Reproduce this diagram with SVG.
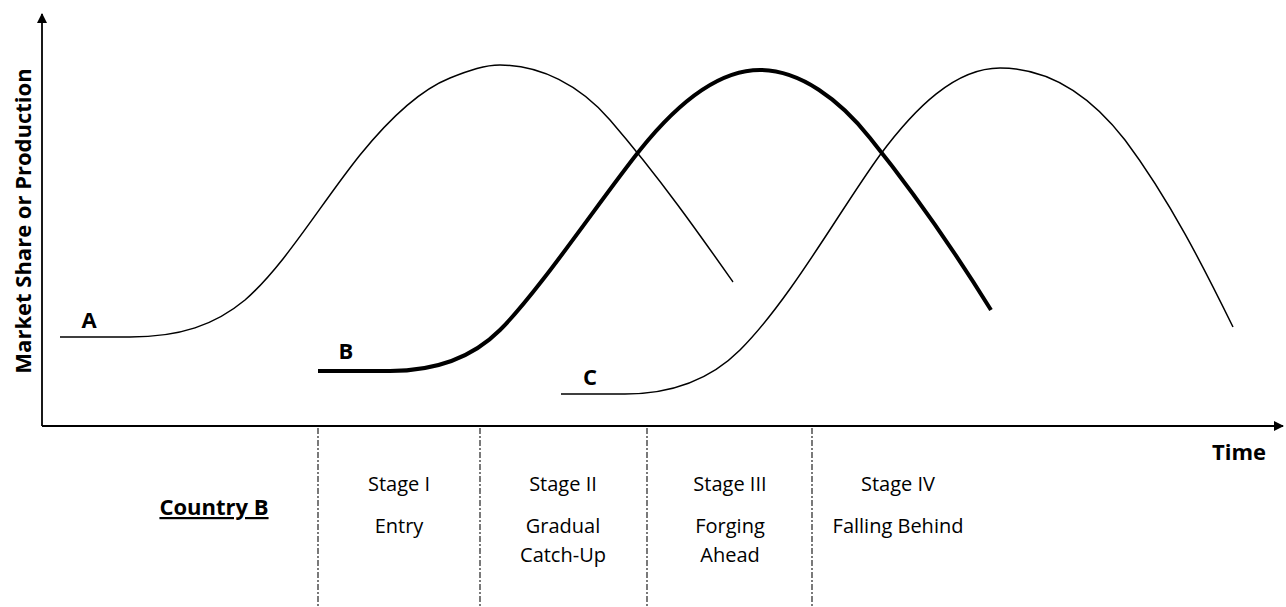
<svg xmlns="http://www.w3.org/2000/svg" width="1286" height="607" viewBox="0 0 1286 607">
<style>
.ax{stroke:#000;stroke-width:1.8;fill:none}
.cv{fill:none;stroke:#000;stroke-width:1.5;stroke-linecap:butt}
.thick{stroke-width:4}
.dash{stroke:#222;stroke-width:1.2;stroke-dasharray:6,2,2,2}
.lbl{font-family:"Open Sans","Liberation Sans",sans-serif;font-weight:bold;font-size:22px;fill:#000}
.st{font-family:"Open Sans","Liberation Sans",sans-serif;font-size:20px;fill:#000;text-anchor:middle}
</style>
<defs>
<marker id="arr" viewBox="0 0 10 10" refX="9" refY="5" markerWidth="10" markerHeight="10" markerUnits="userSpaceOnUse" orient="auto">
<path d="M0,0 L10,5 L0,10 Z" fill="#000"/>
</marker>
</defs>
<g id="axes">
<line class="ax" x1="42" y1="426" x2="42" y2="14" marker-end="url(#arr)"/>
<line class="ax" x1="42" y1="426" x2="1283" y2="426" marker-end="url(#arr)"/>
<text class="lbl" text-anchor="middle" font-size="23.5" transform="translate(31,221) rotate(-90)">Market Share or Production</text>
<text class="lbl" x="1239" y="460" text-anchor="middle" font-size="21">Time</text>
</g>
<g id="connectors">
<path id="curveA" class="cv" d="M60,337 L130,337 C180,337 215,325 245,300 C285,265 320,205 360,155 C390,118 420,90 450,78 C470,70 485,65 500,65 C540,65 580,85 610,120 C660,178 700,235 733,282"/>
<path id="curveB" class="cv thick" d="M318,371 L390,371 C430,371 470,360 500,330 C540,290 600,200 640,150 C680,100 720,70 760,70 C800,70 840,100 870,138 C920,200 960,260 991,310"/>
<path id="curveC" class="cv" d="M561,394 L625,394 C670,394 710,380 740,350 C790,300 840,210 880,155 C915,108 955,68 1000,68 C1050,68 1090,95 1125,140 C1170,200 1205,270 1233,327"/>
<line class="dash" x1="318" y1="428" x2="318" y2="607"/>
<line class="dash" x1="480" y1="428" x2="480" y2="607"/>
<line class="dash" x1="647" y1="428" x2="647" y2="607"/>
<line class="dash" x1="812" y1="428" x2="812" y2="607"/>
</g>
<g id="labelA"><text class="lbl" x="89" y="328" text-anchor="middle">A</text></g>
<g id="labelB"><text class="lbl" x="346" y="359" text-anchor="middle">B</text></g>
<g id="labelC"><text class="lbl" x="590" y="385" text-anchor="middle">C</text></g>
<g id="country"><text class="lbl" x="214" y="515" text-anchor="middle" font-size="19" text-decoration="underline">Country B</text></g>
<g id="stage1"><text class="st" x="399" y="491">Stage I</text><text class="st" x="399" y="533">Entry</text></g>
<g id="stage2"><text class="st" x="563" y="491">Stage II</text><text class="st" x="563" y="533">Gradual</text><text class="st" x="563" y="562">Catch-Up</text></g>
<g id="stage3"><text class="st" x="730" y="491">Stage III</text><text class="st" x="730" y="533">Forging</text><text class="st" x="730" y="562">Ahead</text></g>
<g id="stage4"><text class="st" x="898" y="491">Stage IV</text><text class="st" x="898" y="533">Falling Behind</text></g>
</svg>
